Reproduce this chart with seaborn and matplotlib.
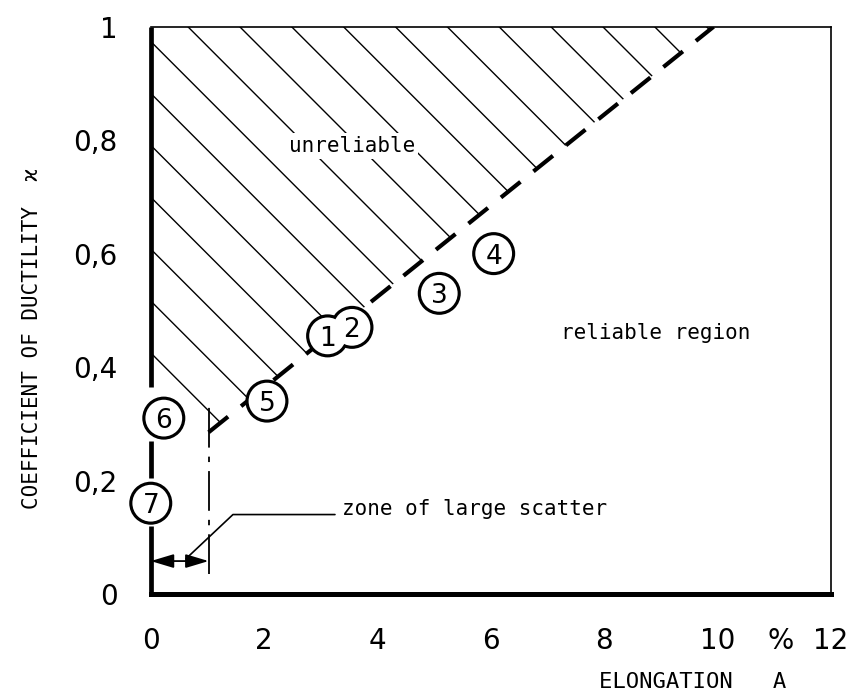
import numpy as np
import pandas as pd
import matplotlib
matplotlib.use("Agg")
import matplotlib.pyplot as plt
import seaborn as sns
from matplotlib.patches import Polygon

# ---------------- data ----------------
x_ticks = [0, 2, 4, 6, 8, 10, 12]
x_tick_labels = ["0", "2", "4", "6", "8", "10", "12"]
y_ticks = [0, 0.2, 0.4, 0.6, 0.8, 1.0]
y_tick_labels = ["0", "0,2", "0,4", "0,6", "0,8", "1"]

point_ids = ["1", "2", "3", "4", "5", "6", "7"]
point_elongation = [3.12, 3.55, 5.09, 6.05, 2.05, 0.23, 0.0]
point_ductility = [0.455, 0.47, 0.53, 0.60, 0.34, 0.31, 0.16]

boundary_elongation = [1.02, 9.93]
boundary_ductility = [0.285, 1.0]

scatter_zone_elongation = [0.0, 1.02]
scatter_zone_level = 0.058

# ---------------- style ----------------
sns.set_theme(style="white")
plt.rcParams["font.family"] = ["Liberation Sans Narrow", "DejaVu Sans"]
plt.rcParams["text.color"] = "black"
plt.rcParams["axes.labelcolor"] = "black"
MONO = ["DejaVu Sans Mono", "DejaVu Sans"]

fig = plt.figure(figsize=(8.47, 6.96), dpi=100)
ax = fig.add_axes([0.178, 0.1466, 0.803, 0.815])
ax.set_xlim(0, 12)
ax.set_ylim(0, 1)

points = pd.DataFrame({"id": point_ids, "A": point_elongation, "k": point_ductility})

# hatched "unreliable" region (above the boundary)
bx0, bx1 = boundary_elongation
by0, by1 = boundary_ductility
hatch_slope = -0.1
poly = Polygon([(0, 1.0), (bx1, by1), (bx0, by0), (0, by0 - hatch_slope * bx0)],
               closed=True, facecolor="none", edgecolor="none")
ax.add_patch(poly)
for b in np.arange(0.425, 2.0, 0.0915):
    ln, = ax.plot([0, 12], [b, b + hatch_slope * 12], color="black", lw=1.0, zorder=2)
    ln.set_clip_path(poly)

# dashed boundary
sns.lineplot(x=boundary_elongation, y=boundary_ductility, color="black", lw=3.0,
             linestyle=(0, (6, 4)), ax=ax, zorder=3, legend=False)

# dash-dot limit line of the scatter zone
ax.plot([scatter_zone_elongation[1]] * 2, [0.035, 0.335], color="black", lw=1.3,
        linestyle=(0, (22, 5, 3, 5)), zorder=3)

# double arrow marking the zone of large scatter
ax.annotate("", xy=(scatter_zone_elongation[0], scatter_zone_level),
            xytext=(scatter_zone_elongation[1], scatter_zone_level),
            arrowprops=dict(arrowstyle="<|-|>,head_length=1.0,head_width=0.3",
                            mutation_scale=14, color="black", lw=1.3,
                            shrinkA=0, shrinkB=0), zorder=4)
# leader line
ax.plot([0.62, 1.45, 3.25], [scatter_zone_level + 0.004, 0.14, 0.14],
        color="black", lw=1.2, zorder=3)

# left axis drawn in pieces (interrupted by the circles)
for lo, hi in [(0.365, 1.0), (0.205, 0.27), (0.0, 0.12)]:
    ax.plot([0, 0], [lo, hi], color="black", lw=3.4, clip_on=False, zorder=4,
            solid_capstyle="butt")

# circled points: union outline + white fill
sns.scatterplot(data=points, x="A", y="k", s=960, color="black", edgecolor="none",
                ax=ax, zorder=6, clip_on=False, legend=False)
sns.scatterplot(data=points, x="A", y="k", s=700, color="white", edgecolor="none",
                ax=ax, zorder=7, clip_on=False, legend=False)
for _, r in points.iterrows():
    ax.text(r["A"], r["k"], r["id"], ha="center", va="center_baseline",
            fontsize=19, color="black", zorder=8)

# region annotations
ax.text(3.55, 0.79, "unreliable", ha="center", va="center", fontsize=15,
        family=MONO, color="black", zorder=5,
        bbox=dict(facecolor="white", edgecolor="none", pad=2))
ax.text(8.9, 0.46, "reliable region", ha="center", va="center", fontsize=15,
        family=MONO, color="black", zorder=5)
ax.text(3.37, 0.15, "zone of large scatter", ha="left", va="center", fontsize=15,
        family=MONO, color="black", zorder=5)

# spines & ticks
ax.spines["left"].set_visible(False)
for s in ("top", "right"):
    ax.spines[s].set_linewidth(1.2)
    ax.spines[s].set_color("black")
ax.spines["bottom"].set_linewidth(3.6)
ax.spines["bottom"].set_color("black")

ax.set_xticks(x_ticks, x_tick_labels)
ax.set_yticks(y_ticks, y_tick_labels)
ax.set_xticks([11.12], ["%"], minor=True)
ax.tick_params(axis="both", which="major", direction="out", length=16, width=1.4,
               color="black", labelsize=20, labelcolor="black")
ax.tick_params(axis="x", which="major", pad=8)
ax.tick_params(axis="y", which="major", pad=8)
ax.tick_params(axis="x", which="minor", length=0, pad=24, labelsize=20,
               labelcolor="black")
ax.tick_params(axis="y", which="minor", left=False)

ax.set_xlabel("ELONGATION   A", family=MONO, fontsize=16, color="black")
ax.xaxis.set_label_coords(0.796, -0.138)
ax.set_ylabel("COEFFICIENT OF DUCTILITY  ϰ", family=MONO, fontsize=15, color="black")
ax.yaxis.set_label_coords(-0.16, 0.45)

fig.savefig("out.png", dpi=100)
